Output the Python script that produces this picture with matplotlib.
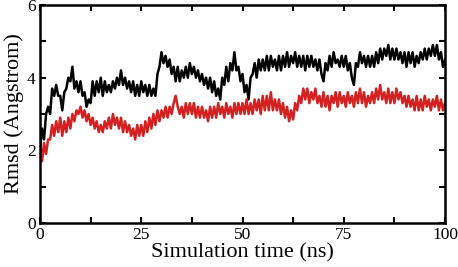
import numpy as np
import matplotlib
matplotlib.use("Agg")
import matplotlib.pyplot as plt
from matplotlib.ticker import MultipleLocator

black_rmsd = [
    2.0, 2.6, 2.3, 3.0, 3.2, 3.0, 3.7, 3.5, 3.8, 3.5, 3.5, 3.1, 3.6, 3.7, 4.0, 3.9, 4.3, 3.7, 3.9, 3.6,
    3.9, 3.5, 3.6, 3.2, 3.4, 3.3, 3.9, 3.5, 3.9, 3.6, 4.0, 3.5, 3.9, 3.6, 3.8, 3.6, 3.9, 3.7, 4.0, 3.8,
    4.2, 3.8, 4.0, 3.7, 3.9, 3.6, 3.9, 3.5, 3.8, 3.5, 3.9, 3.6, 3.8, 3.5, 3.8, 3.5, 3.7, 3.5, 4.1, 4.3,
    4.7, 4.4, 4.6, 4.3, 4.5, 4.1, 4.3, 3.9, 4.3, 3.9, 4.2, 4.0, 4.3, 4.0, 4.4, 4.1, 4.3, 4.0, 4.2, 3.9,
    4.1, 3.8, 4.0, 3.7, 4.0, 3.6, 3.9, 3.5, 3.7, 3.4, 4.0, 3.8, 4.3, 3.9, 4.4, 4.2, 4.7, 4.2, 4.3, 3.9,
    4.1, 3.6, 3.8, 3.4, 4.0, 4.1, 4.4, 4.0, 4.5, 4.2, 4.5, 4.2, 4.6, 4.2, 4.6, 4.3, 4.5, 4.2, 4.6, 4.2,
    4.6, 4.3, 4.7, 4.3, 4.6, 4.4, 4.7, 4.3, 4.6, 4.3, 4.6, 4.2, 4.6, 4.3, 4.6, 4.3, 4.5, 4.2, 4.5, 4.1,
    3.9, 4.4, 4.2, 4.6, 4.3, 4.7, 4.4, 4.5, 4.3, 4.6, 4.3, 4.6, 4.2, 4.4, 4.0, 3.8, 4.4, 4.3, 4.7, 4.4,
    4.6, 4.3, 4.6, 4.3, 4.6, 4.3, 4.7, 4.4, 4.8, 4.5, 4.8, 4.6, 4.9, 4.5, 4.8, 4.5, 4.8, 4.5, 4.7, 4.4,
    4.7, 4.3, 4.7, 4.4, 4.7, 4.3, 4.6, 4.4, 4.7, 4.5, 4.8, 4.5, 4.8, 4.6, 4.9, 4.6, 4.9, 4.5, 4.7, 4.3,
    4.5,
]

red_rmsd = [
    2.1, 1.7, 2.2, 1.9, 2.3, 2.3, 2.7, 2.4, 2.8, 2.5, 2.9, 2.4, 2.8, 2.5, 2.9, 2.6, 3.0, 2.8, 3.1, 3.0,
    3.2, 2.9, 3.1, 2.8, 3.0, 2.7, 2.9, 2.6, 2.8, 2.5, 2.7, 2.5, 2.8, 2.6, 2.9, 2.6, 3.0, 2.7, 2.9, 2.6,
    2.9, 2.5, 2.8, 2.5, 2.7, 2.4, 2.6, 2.3, 2.7, 2.4, 2.7, 2.4, 2.8, 2.5, 2.9, 2.6, 3.0, 2.7, 3.1, 2.8,
    3.1, 2.9, 3.2, 2.9, 3.2, 3.0, 3.3, 3.5, 3.2, 3.0, 3.2, 2.9, 3.3, 3.0, 3.3, 3.0, 3.3, 2.9, 3.2, 2.9,
    3.2, 2.9, 3.1, 2.8, 3.2, 2.9, 3.2, 2.9, 3.3, 3.0, 3.2, 2.9, 3.3, 3.0, 3.2, 2.9, 3.3, 3.0, 3.3, 3.0,
    3.3, 3.0, 3.4, 3.0, 3.3, 3.0, 3.4, 3.1, 3.4, 3.0, 3.5, 3.1, 3.5, 3.1, 3.6, 3.1, 3.4, 3.1, 3.4, 3.0,
    3.3, 2.9, 3.2, 2.8, 3.1, 2.85, 3.3, 3.1, 3.5, 3.3, 3.7, 3.4, 3.7, 3.3, 3.6, 3.4, 3.7, 3.3, 3.5, 3.2,
    3.6, 3.2, 3.5, 3.1, 3.5, 3.3, 3.6, 3.2, 3.6, 3.3, 3.5, 3.2, 3.6, 3.3, 3.5, 3.2, 3.6, 3.3, 3.7, 3.3,
    3.6, 3.2, 3.5, 3.3, 3.6, 3.3, 3.7, 3.4, 3.8, 3.4, 3.6, 3.3, 3.7, 3.3, 3.6, 3.3, 3.7, 3.4, 3.6, 3.3,
    3.5, 3.2, 3.5, 3.2, 3.4, 3.1, 3.5, 3.1, 3.4, 3.1, 3.5, 3.2, 3.4, 3.1, 3.4, 3.2, 3.5, 3.1, 3.4, 3.1,
    3.3,
]

t_black = np.linspace(0, 100, len(black_rmsd))
t_red = np.linspace(0, 100, len(red_rmsd))

plt.rcParams['font.family'] = ['Liberation Serif', 'DejaVu Serif']

fig = plt.figure(figsize=(4.58, 2.67), dpi=100)
ax = fig.add_axes([40/458, 44/267, 405/458, 218/267])

ax.plot(t_black, black_rmsd, color='black', lw=1.8)
ax.plot(t_red, red_rmsd, color='#d42020', lw=1.8)

ax.set_xlim(0, 100)
ax.set_ylim(0, 6)
ax.xaxis.set_major_locator(MultipleLocator(25))
ax.xaxis.set_minor_locator(MultipleLocator(12.5))
ax.yaxis.set_major_locator(MultipleLocator(2))
ax.yaxis.set_minor_locator(MultipleLocator(1))
ax.tick_params(which='both', direction='in', top=True, right=True,
               length=4, width=1.5, labelsize=12.5, pad=3)
for s in ax.spines.values():
    s.set_linewidth(1.8)

ax.set_xlabel('Simulation time (ns)', fontsize=16, labelpad=0)
ax.set_ylabel('Rmsd (Angstrom)', fontsize=16, labelpad=2)

fig.savefig('out.png', dpi=100)
